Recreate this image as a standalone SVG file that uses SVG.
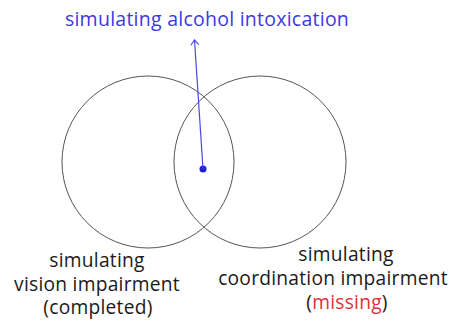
<svg xmlns="http://www.w3.org/2000/svg" width="466" height="322" viewBox="0 0 466 322">
<defs>
<style>
.c{fill:none;stroke:#555;stroke-width:1}
.t{font-family:"Open Sans","Noto Sans",sans-serif;font-size:19.2px;letter-spacing:0.25px;font-weight:500;fill:#1a1a1a;text-anchor:middle}
</style>
<marker id="ah" viewBox="0 0 10 10" refX="9" refY="5" markerWidth="10" markerHeight="10" markerUnits="userSpaceOnUse" orient="auto">
<path d="M4,1 L9,5 L4,9" fill="none" stroke="#4848e0" stroke-width="1.1"/>
</marker>
</defs>
<rect width="466" height="322" fill="#fff"/>
<g id="vision">
<circle class="c" cx="148" cy="162" r="86"/>
<text class="t" x="97" y="267">simulating</text>
<text class="t" x="97" y="291">vision impairment</text>
<text class="t" x="98" y="314">(completed)</text>
</g>
<g id="coordination">
<circle class="c" cx="260" cy="162" r="86"/>
<text class="t" x="346" y="260.5">simulating</text>
<text class="t" x="333" y="284.5">coordination impairment</text>
<text class="t" x="347" y="308.5">(<tspan fill="#e0303a">missing</tspan>)</text>
</g>
<g id="alcohol">
<text class="t" x="207" y="26" style="fill:#3a3ae0;font-size:19.5px">simulating alcohol intoxication</text>
<circle cx="203" cy="169" r="3.5" fill="#2020d0"/>
</g>
<g id="connectors">
<line x1="203" y1="169" x2="194.5" y2="40" stroke="#4848e0" stroke-width="1.2" marker-end="url(#ah)"/>
</g>
</svg>
